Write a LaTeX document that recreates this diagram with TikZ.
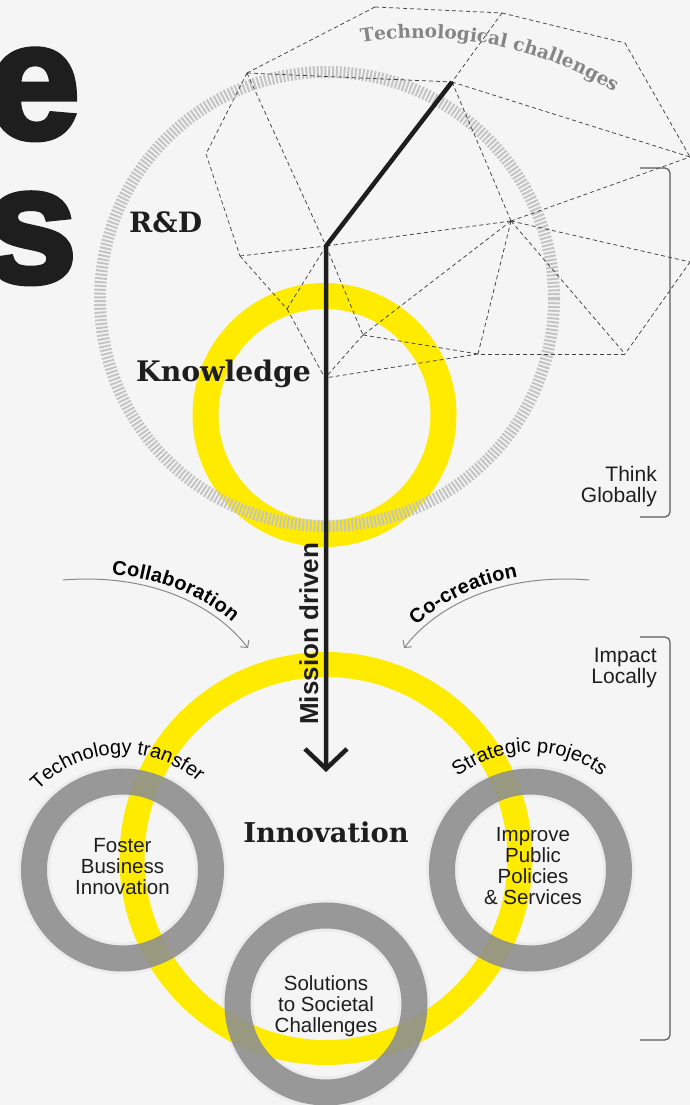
\documentclass[tikz,border=0pt]{standalone}
\usepackage{fontspec}
\setmainfont{Liberation Sans}
\newfontfamily\slabfont{DejaVu Serif}
\newfontfamily\heavyfont[FakeBold=3.5]{Liberation Sans}
\usetikzlibrary{calc}
\usetikzlibrary{arrows.meta}
\usetikzlibrary{decorations.text}

\definecolor{bgcol}{HTML}{F5F5F5}
\definecolor{ink}{HTML}{1E1E1E}
\definecolor{yel}{HTML}{FFEB00}
\definecolor{ringgray}{HTML}{8F8F8F}
\definecolor{hatchgray}{HTML}{C4C4C4}
\definecolor{dashgray}{HTML}{404040}
\definecolor{challgray}{HTML}{858585}
\definecolor{arrowgray}{HTML}{8A8A8A}
\definecolor{brackgray}{HTML}{5A5A5A}

\tikzset{
 netline/.style={draw=dashgray, line width=.75pt, dash pattern=on 4pt off 3pt},
 hatchring/.style={draw=hatchgray, line width=12pt, dash pattern=on 2pt off 1.8pt},
 yelring/.style={draw=yel, line width=#1},
 grayring/.style={draw=ringgray, line width=26pt, draw opacity=.9},
 ringshadow/.style={draw=black, line width=32pt, draw opacity=.035},
 bigletter/.style={anchor=base east, inner sep=0, text=ink, font=\heavyfont\bfseries\fontsize{165}{165}\selectfont},
 slabtext/.style={anchor=base west, inner sep=0, text=ink, font=\slabfont\bfseries\fontsize{#1}{#1}\selectfont},
 ringtext/.style={align=center, inner sep=0, text=ink, font=\fontsize{20.5}{21}\selectfont},
 sidetext/.style={align=right, anchor=south east, inner sep=0, text=ink, font=\fontsize{21}{20.5}\selectfont},
 bracket/.style={draw=brackgray, line width=1.2pt, rounded corners=5pt},
 flowarrow/.style={draw=arrowgray, line width=1pt, -{Straight Barb[length=5pt,width=11pt]}},
 stem/.style={draw=ink, line width=4.5pt, -{Straight Barb[length=20pt,width=42pt]}}
}

\begin{document}
\begin{tikzpicture}[x=1pt,y=1pt]
\useasboundingbox[fill=bgcol] (0,0) rectangle (690,1105);

% cut letters at the left
\node[bigletter] (eletter) at (80,967) {e};
\node[bigletter] (sletter) at (77,823) {s};

% circle centres
\coordinate (rd) at (327,806);
\coordinate (know) at (324.5,690);
\coordinate (innov) at (326,246.5);
\coordinate (lring) at (122.5,235);
\coordinate (rring) at (530.5,235);
\coordinate (bring) at (326,101);

\draw[yelring=26pt] (know) circle[radius=119];
\draw[hatchring] (rd) circle[radius=227];

% network of challenges
\coordinate (A) at (247,1032);
\coordinate (B) at (375,1098);
\coordinate (C) at (502,1092);
\coordinate (D) at (625,1062);
\coordinate (E) at (690,948);
\coordinate (G) at (452,1023);
\coordinate (H) at (511,884);
\coordinate (J) at (326,859);
\coordinate (K) at (625,751);
\coordinate (L) at (363,770);
\coordinate (M) at (478,751);
\coordinate (N) at (690,843);
\coordinate (P) at (325,727);
\coordinate (Q) at (287,796);
\coordinate (R) at (240,849);
\coordinate (S) at (206,951);
\foreach \a/\b in {A/B,B/C,C/D,D/E,A/G,C/G,G/J,G/E,G/H,H/E,H/J,H/K,H/L,H/M,H/N,N/K,K/M,L/M,M/P,L/P,A/S,S/R,A/J,R/J,R/Q,Q/P,J/Q,J/L}
 \draw[netline] (\a) -- (\b);

\path[decorate, decoration={text along path, text align=left,
 text={|\slabfont\bfseries\fontsize{18.5}{18.5}\selectfont\color{challgray}|Technological challenges}}]
 ($(422,699)+(99.5:368)$) arc[start angle=99.5, end angle=50, radius=368];

% lower part
\foreach \c in {lring,rring,bring}
 \draw[ringshadow] (\c) circle[radius=88.5];
\draw[yelring=25pt] (innov) circle[radius=194];
\foreach \c in {lring,rring,bring}
 \draw[grayring] (\c) circle[radius=88.5];

\coordinate (tip) at (326,333);
\draw[stem] (G) -- (J) -- (tip);

\node[slabtext=28] (rnd) at (129,872) {R\&D};
\node[slabtext=28.3] (knowledge) at (136,723) {Knowledge};
\node[slabtext=27.3, anchor=base] (innovation) at (326,262) {Innovation};
\node[rotate=90, anchor=base west, inner sep=0, text=ink, font=\bfseries\fontsize{26}{26}\selectfont] (mission) at (318,380) {Mission driven};

\node[ringtext] (foster) at (122.5,238) {Foster\\Business\\Innovation};
\node[ringtext] (improve) at (533,238.5) {Improve\\Public\\Policies\\\& Services};
\node[ringtext] (solutions) at (326,99) {Solutions\\to Societal\\Challenges};

\path[decorate, decoration={text along path, text align=center,
 text={|\fontsize{20}{20}\selectfont|Technology transfer}}]
 ($(lring)+(183:116)$) arc[start angle=183, end angle=3, radius=116];
\path[decorate, decoration={text along path, text align=center,
 text={|\fontsize{20}{20}\selectfont|Strategic projects}}]
 ($(rring)+(180.5:118)$) arc[start angle=180.5, end angle=0.5, radius=118];

% collaboration / co-creation
\coordinate (cbstart) at (63,525);
\coordinate (cbend) at (248,457);
\coordinate (ccstart) at (589,525);
\coordinate (ccend) at (404,457);
\draw[flowarrow] (cbstart) .. controls (150,532) and (215,500) .. (cbend);
\draw[flowarrow] (ccstart) .. controls (502,532) and (437,500) .. (ccend);
\path[decorate, decoration={text along path, text align={left indent=48pt}, raise=6pt,
 text={|\bfseries\fontsize{20}{20}\selectfont|Collaboration}}]
 (cbstart) .. controls (150,532) and (215,500) .. (cbend);
\path[decorate, decoration={text along path, text align={left indent=24pt}, raise=6pt,
 text={|\bfseries\fontsize{20}{20}\selectfont|Co-creation}}]
 (ccend) .. controls (437,500) and (502,532) .. (ccstart);

% brackets
\coordinate (tgtop) at (640,937);
\coordinate (tgbot) at (640,588);
\coordinate (iltop) at (640,468);
\coordinate (ilbot) at (640,65);
\draw[bracket] (tgtop) -| ($(tgbot)+(30,0)$) -- (tgbot);
\draw[bracket] (iltop) -| ($(ilbot)+(30,0)$) -- (ilbot);
\node[sidetext] (think) at (657,598) {Think\\Globally};
\node[sidetext] (impact) at (657,417) {Impact\\Locally};
\end{tikzpicture}
\end{document}
